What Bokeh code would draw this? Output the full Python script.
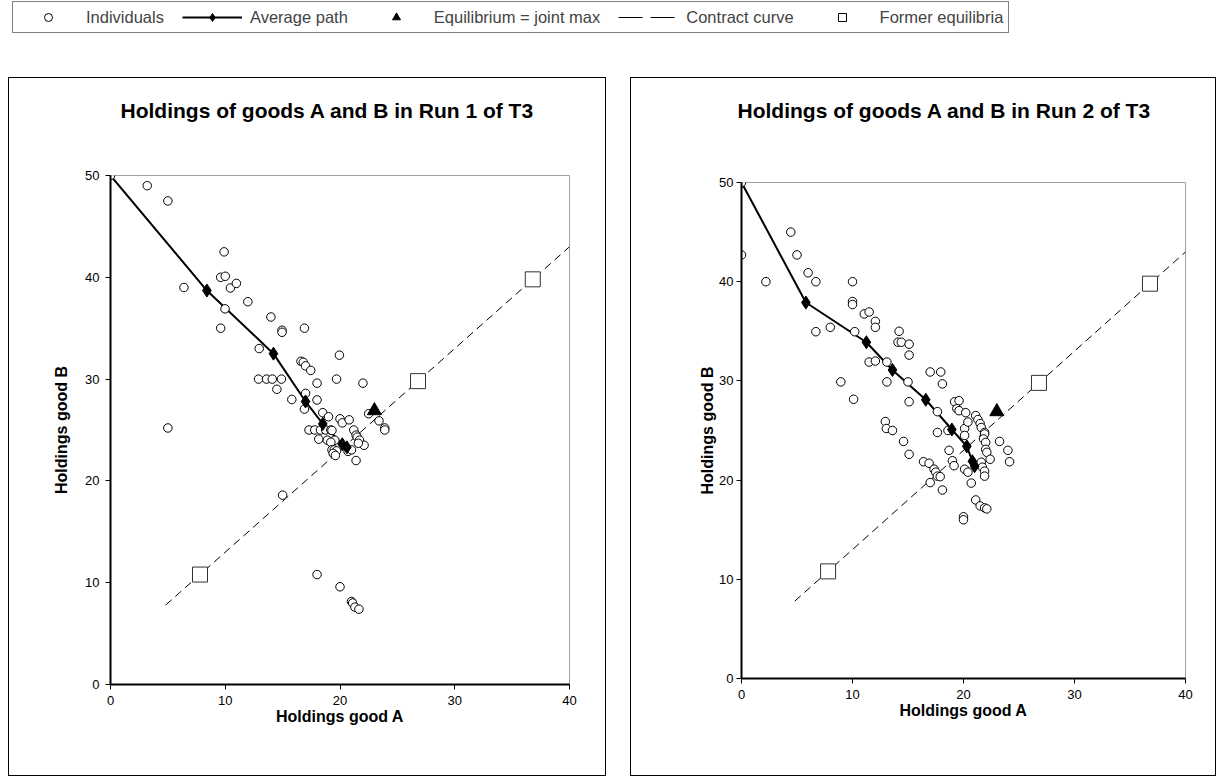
from bokeh.plotting import figure
from bokeh.models import ColumnDataSource, Legend, LegendItem, FixedTicker, Range1d, Title, Spacer
from bokeh.layouts import column, row
from bokeh.embed import file_html
from bokeh.resources import INLINE

FONT = "Liberation Sans"

# ---------------- data ----------------
x_ticks = [0, 10, 20, 30, 40]
y_ticks = [0, 10, 20, 30, 40, 50]

titles = ["Holdings of goods A and B in Run 1 of T3",
          "Holdings of goods A and B in Run 2 of T3"]
x_label = "Holdings good A"
y_label = "Holdings good B"

legend_labels = ["Individuals", "Average path", "Equilibrium = joint max",
                 "Contract curve", "Former equilibria"]

# Run 1 individuals
run1_a = [0, 3.2, 5.0, 9.9, 9.6, 10.0, 6.4, 10.45, 10.97, 11.97, 9.98, 13.98, 9.6,
          14.95, 14.95, 16.9, 12.96, 16.6, 16.8, 17.0, 17.45, 19.95,
          12.9, 13.6, 14.1, 14.9, 14.5, 18.0, 19.7, 22.0,
          15.8, 17.0, 18.0, 16.9, 18.5, 19.0, 20.0, 20.2, 20.8,
          22.5, 23.4, 23.9, 23.9,
          17.3, 17.8, 18.3, 18.75, 19.2, 19.3,
          18.15, 18.9, 19.55, 19.2,
          21.2, 21.4, 21.5, 21.7, 22.1, 21.6,
          19.3, 19.5, 19.7, 19.4, 19.6, 20.7, 21.0, 21.4,
          5.0, 15.0, 18.0, 20.0, 21.0, 21.1, 21.3, 21.65]
run1_b = [50, 49.0, 47.5, 42.5, 40.0, 40.1, 39.0, 38.95, 39.4, 37.6, 36.9, 36.1, 35.0,
          34.8, 34.6, 35.0, 33.0, 31.75, 31.65, 31.3, 30.85, 32.35,
          30.0, 30.0, 30.0, 30.0, 29.0, 29.6, 30.0, 29.6,
          28.0, 28.6, 27.95, 27.05, 26.7, 26.3, 26.1, 25.7, 26.0,
          26.6, 25.9, 25.2, 25.0,
          25.0, 25.0, 25.0, 25.0, 25.0, 24.95,
          24.1, 24.0, 24.0, 23.8,
          25.0, 24.5, 24.3, 24.0, 23.5, 23.7,
          23.05, 23.05, 22.95, 22.7, 22.5, 22.9, 23.05, 22.0,
          25.2, 18.6, 10.8, 9.6, 8.15, 8.0, 7.6, 7.4]

# Run 1 average path
avg1_a = [0, 8.4, 14.2, 17.0, 18.5, 20.2, 20.6]
avg1_b = [50, 38.7, 32.5, 27.8, 25.6, 23.6, 23.3]

# Run 2 individuals
run2_a = [0, 0, 4.44, 5.0, 2.2, 6.0, 6.7, 10.0, 10.0, 10.0, 11.06, 11.5, 12.06, 12.06,
          6.7, 8.0, 10.2, 14.2, 14.1, 14.4, 15.1,
          15.1, 11.5, 12.06, 13.1, 13.1, 15.0, 8.95, 17.0, 17.95, 18.1, 10.1, 15.1,
          17.65, 19.2, 19.6, 19.4, 19.6, 20.2, 21.1, 21.3, 21.5, 21.6, 21.9, 21.9,
          21.8, 18.6, 17.65, 20.1, 20.4, 12.96, 13.05, 13.6, 14.6, 20.1, 18.7, 15.1,
          22.0, 22.0, 22.1, 23.25, 24.0, 24.15, 22.4, 19.0, 19.15, 16.4, 16.9,
          17.35, 17.5, 17.65, 17.9, 17.0, 18.1, 20.1, 20.4, 21.6, 21.7, 21.9, 21.9,
          20.7, 21.1, 20.0, 20.0, 21.5, 21.9, 22.1]
run2_b = [50, 42.7, 45.0, 42.7, 40.0, 40.9, 40.0, 40.0, 38.0, 37.7, 36.75, 36.95, 36.0, 35.4,
          34.96, 35.4, 34.96, 35.0, 33.9, 33.9, 33.7,
          32.6, 31.9, 32.0, 31.9, 29.9, 29.9, 29.9, 30.9, 30.9, 29.7, 28.15, 27.9,
          26.9, 27.9, 28.0, 27.2, 27.0, 26.8, 26.5, 26.1, 25.7, 25.3, 24.8, 24.65,
          24.15, 25.0, 24.8, 25.2, 25.85, 25.9, 25.2, 25.0, 23.9, 24.5, 23.0, 22.6,
          23.8, 23.1, 22.8, 23.9, 23.0, 21.85, 22.1, 21.95, 21.45, 21.85, 21.7,
          21.1, 20.8, 20.4, 20.35, 19.75, 19.0, 21.1, 20.8, 21.8, 21.3, 20.9, 20.4,
          19.7, 18.0, 16.3, 16.0, 17.4, 17.2, 17.1]

# Run 2 average path
avg2_a = [0, 5.8, 11.25, 13.6, 16.6, 18.95, 20.3, 20.8, 21.0]
avg2_b = [50, 37.9, 33.9, 31.1, 28.1, 25.1, 23.4, 21.9, 21.4]

# equilibrium (joint max), former equilibria, contract curve
equil_a = [23.0]
equil_b = [26.9]
former_a = [7.8, 26.8, 36.8]
former_b = [10.8, 29.8, 39.8]
contract_a = [4.8, 40.0]
contract_b = [7.8, 43.0]


def make_plot(title, ind_a, ind_b, avg_a, avg_b, width, height, bl, br, bt, bb,
              gap, title_offset, ytick_standoff, ylab_standoff):
    p = figure(width=width, height=height, x_range=Range1d(0, 40), y_range=Range1d(0, 50),
               toolbar_location=None, output_backend="svg",
               min_border_left=bl, min_border_right=br, min_border_top=bt, min_border_bottom=bb,
               background_fill_color="white", border_fill_color="white")
    p.title.text = ""
    # spacer title (closest to frame) then the real title above it
    p.add_layout(Title(text=" ", text_font_size="1px", standoff=gap), "above")
    p.add_layout(Title(text=title, align="left", offset=title_offset, text_font=FONT,
                       text_font_size="21px", text_font_style="bold", text_color="black",
                       standoff=0), "above")

    p.grid.visible = False
    p.outline_line_color = "#a0a0a0"
    p.outline_line_width = 1

    p.xaxis.ticker = FixedTicker(ticks=x_ticks)
    p.yaxis.ticker = FixedTicker(ticks=y_ticks)
    for ax in (p.xaxis, p.yaxis):
        ax.axis_line_width = 2
        ax.axis_line_color = "black"
        ax.major_tick_line_color = "black"
        ax.major_tick_out = 5
        ax.major_tick_in = 0
        ax.minor_tick_line_color = None
        ax.major_label_text_font = FONT
        ax.major_label_text_font_size = "13px"
        ax.major_label_text_color = "black"
        ax.axis_label_text_font = FONT
        ax.axis_label_text_font_size = "16px"
        ax.axis_label_text_font_style = "bold"
        ax.axis_label_text_color = "black"
    p.xaxis.axis_label = x_label
    p.yaxis.axis_label = y_label
    p.xaxis.major_label_standoff = 6
    p.yaxis.major_label_standoff = ytick_standoff
    p.xaxis.axis_label_standoff = 0
    p.yaxis.axis_label_standoff = ylab_standoff

    p.line(contract_a, contract_b, line_color="black", line_width=1, line_dash="8 5")
    p.line(avg_a, avg_b, line_color="black", line_width=2)
    p.scatter(ind_a, ind_b, marker="circle", size=8.5, fill_color="white",
              line_color="black", line_width=1)
    p.scatter(avg_a[1:], avg_b[1:], marker="diamond", size=13, fill_color="black",
              line_color="black")
    p.scatter(equil_a, equil_b, marker="triangle", size=14, fill_color="black",
              line_color="black")
    p.scatter(former_a, former_b, marker="square", size=15, fill_color="white",
              line_color="#333333", line_width=1)
    p.styles = {"border": "1px solid black", "box-sizing": "content-box"}
    return p


p1 = make_plot(titles[0], run1_a, run1_b, avg1_a, avg1_b, 596, 697, 101, 38, 97, 93,
               51, 10, 6, 12)
p2 = make_plot(titles[1], run2_a, run2_b, avg2_a, avg2_b, 584, 697, 110, 32, 104, 99,
               58, -4, 3, 0)

# ---------------- legend strip ----------------
leg = figure(width=1100, height=36, x_range=Range1d(0, 1), y_range=Range1d(0, 1),
             toolbar_location=None, output_backend="svg", x_axis_type=None, y_axis_type=None,
             min_border=0, border_fill_color="white")
leg.outline_line_color = None
pt = dict(x=[-5], y=[-5])
seg = dict(x=[-5, -4], y=[-5, -5])
r_ind = leg.scatter("x", "y", source=ColumnDataSource(pt), marker="circle", size=6,
                    fill_color="white", line_color="black")
r_avl = leg.line("x", "y", source=ColumnDataSource(seg), line_color="black", line_width=2)
r_avd = leg.scatter("x", "y", source=ColumnDataSource(pt), marker="diamond", size=12,
                    fill_color="black", line_color="black")
r_eq = leg.scatter("x", "y", source=ColumnDataSource(pt), marker="triangle", size=12,
                   fill_color="black", line_color="black")
r_cc = leg.line("x", "y", source=ColumnDataSource(seg), line_color="black", line_width=1,
                line_dash="24 8")
r_fe = leg.scatter("x", "y", source=ColumnDataSource(pt), marker="square", size=12,
                   fill_color="white", line_color="black")
items = [LegendItem(label=legend_labels[0], renderers=[r_ind]),
         LegendItem(label=legend_labels[1], renderers=[r_avl, r_avd]),
         LegendItem(label=legend_labels[2], renderers=[r_eq]),
         LegendItem(label=legend_labels[3], renderers=[r_cc]),
         LegendItem(label=legend_labels[4], renderers=[r_fe])]
legend = Legend(items=items, orientation="horizontal", location=(12, 3), margin=0,
                border_line_color="black", border_line_width=1, padding=5,
                glyph_width=60, glyph_height=20, label_standoff=8, spacing=18,
                label_text_font=FONT, label_text_font_size="16.5px",
                background_fill_color="white", background_fill_alpha=1.0)
leg.add_layout(legend, "center")

layout = column(leg, row(Spacer(width=8), column(p1), Spacer(width=24), column(p2)),
                spacing=41)

with open("out.html", "w") as f:
    f.write(file_html(layout, INLINE))
